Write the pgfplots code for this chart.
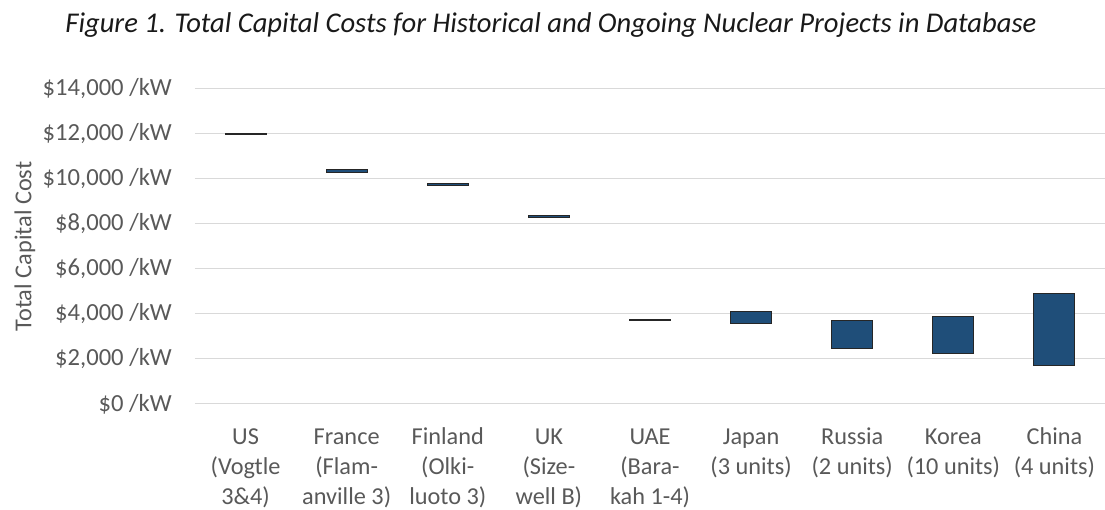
\documentclass[border=0pt]{standalone}
\usepackage{pgfplots}
\pgfplotsset{compat=1.18}
\usepackage{fontspec}
\setmainfont{Carlito}
\definecolor{txtgrey}{HTML}{595959}
\definecolor{gridgrey}{HTML}{D9D9D9}
\definecolor{barblue}{HTML}{1F4E79}
\newcommand{\st}{\rule{0pt}{18pt}}
\begin{document}
\begin{tikzpicture}[x=1pt,y=1pt]
\useasboundingbox (0,0) rectangle (1105,510);
\node[font=\fontsize{28.6}{32}\selectfont\itshape, text=black!90] at (551,485) {Figure 1. Total Capital Costs for Historical and Ongoing Nuclear Projects in Database};
\begin{axis}[
  at={(195pt,106pt)}, anchor=south west,
  scale only axis, width=910pt, height=315pt,
  ybar stacked, bar width=41pt,
  xmin=-0.5, xmax=8.5, ymin=0, ymax=14000,
  scaled y ticks=false,
  xtick={0,...,8},
  xticklabels={{\st US\\(Vogtle\\3\&4)},{\st France\\(Flam-\\anville 3)},{\st Finland\\(Olki-\\luoto 3)},{\st UK\\(Size-\\well B)},{\st UAE\\(Bara-\\kah 1-4)},{\st Japan\\(3 units)},{\st Russia\\(2 units)},{\st Korea\\(10 units)},{\st China\\(4 units)}},
  ytick={0,2000,...,14000},
  yticklabels={\$0 /kW,\$2{,}000 /kW,\$4{,}000 /kW,\$6{,}000 /kW,\$8{,}000 /kW,\$10{,}000 /kW,\$12{,}000 /kW,\$14{,}000 /kW},
  major tick length=0pt,
  axis line style={draw=none},
  axis x line*=bottom,
  ymajorgrids, grid style={gridgrey, line width=1pt},
  xticklabel style={align=center, font=\fontsize{24.3}{30}\selectfont, text=txtgrey, inner sep=0pt, anchor=north, yshift=-22pt},
  yticklabel style={font=\fontsize{24.6}{28}\selectfont, text=txtgrey, inner sep=0pt, xshift=-23pt, anchor=east},
  ylabel={Total Capital Cost},
  every axis y label/.style={at={(axis description cs:-0.1868,0.5)}, anchor=center, rotate=90, font=\fontsize{24.3}{28}\selectfont, text=txtgrey},
  clip=false,
]
\addplot[draw=none, fill=none] coordinates {(0,11975) (1,10300) (2,9690) (3,8310) (4,3690) (5,3560) (6,2460) (7,2240) (8,1700)};
\addplot[fill=barblue, draw=black!85, line width=1pt] coordinates {(0,40) (1,100) (2,110) (3,70) (4,60) (5,570) (6,1260) (7,1670) (8,3190)};
\end{axis}
\end{tikzpicture}
\end{document}
